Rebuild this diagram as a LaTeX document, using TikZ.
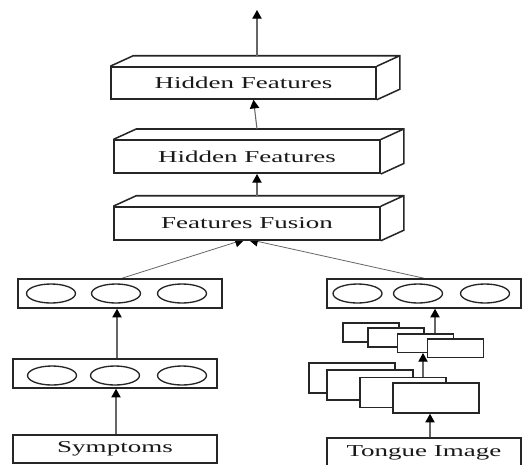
\documentclass[tikz,border=0pt]{standalone}
\usepackage{fontspec}
\setmainfont{Liberation Serif}
\newfontfamily\widefont[FakeStretch=1.62]{Liberation Serif}
\usetikzlibrary{arrows.meta,calc,backgrounds}
\begin{document}
\begin{tikzpicture}[x=0.75pt,y=-0.75pt,
  edge/.style={line width=1.15pt,draw=black!85},
  txt/.style={font={\widefont\fontsize{12.5}{14}\selectfont},text=black!90},
  fbox/.style={edge,fill=white,inner sep=0pt,rectangle,txt},
  cbox/.style={edge,fill=white,inner sep=0pt,rectangle,minimum width=153pt,minimum height=21.75pt},
  fmap/.style={edge,fill=white,inner sep=0pt,rectangle},
  arr/.style={draw=black!60,line width=0.8pt,-{Triangle[width=7pt,length=6.5pt,color=black]}},
  farr/.style={draw=black!60,line width=0.6pt,-{Triangle[width=7.5pt,length=7.5pt,color=black]}},
  circ/.style={edge,line width=1pt}]
\useasboundingbox (0,0) rectangle (523,464);
\clip (0,0) rectangle (523,464);

% ---------- 3D boxes ----------
\node[fbox,minimum width=198.75pt,minimum height=24pt] (b1) at (243.5,83) {Hidden Features};
\draw[edge] (b1.north west) -- ++(23,-10.5) -| ($(b1.south east)+(23,-10.5)$) -- (b1.south east)
            (b1.north east) -- ++(23,-10.5);
\node[fbox,minimum width=199.5pt,minimum height=24.75pt] (b2) at (247,156.75) {Hidden Features};
\draw[edge] (b2.north west) -- ++(23,-10.5) -| ($(b2.south east)+(23,-10.5)$) -- (b2.south east)
            (b2.north east) -- ++(23,-10.5);
\node[fbox,minimum width=199.5pt,minimum height=24.75pt] (b3) at (247,223.5) {Features Fusion};
\draw[edge] (b3.north west) -- ++(23,-10.5) -| ($(b3.south east)+(23,-10.5)$) -- (b3.south east)
            (b3.north east) -- ++(23,-10.5);

\coordinate (out) at (257,10);
\draw[arr] ($(b1.north)+(13.5,-10.5)$) -- (out);
\draw[arr] ($(b2.north)+(10,-10.5)$) -- ($(b1.south)+(10,0)$);
\draw[arr] ($(b3.north)+(10,-10.5)$) -- ($(b2.south)+(10,0)$);

% ---------- left column ----------
\node[cbox] (l1) at (120,293.5) {};
\foreach \cx in {51,116,182} \draw[circ] (\cx,293.5) ellipse [x radius=24.5, y radius=9.5];
\node[cbox] (l2) at (115,373.5) {};
\foreach \cx in {52,115,182} \draw[circ] (\cx,375.5) ellipse [x radius=24.5, y radius=9.5];
\node[fbox,minimum width=153pt,minimum height=21pt] (sym) at (115,449) {Symptoms};

\draw[arr] ($(sym.north)+(1,0)$) -- ($(l2.south)+(1,0)$);
\draw[arr] ($(l2.north)+(2,0)$) -- ($(l2.north |- l1.south)+(2,0)$);

% ---------- right column ----------
\node[cbox,minimum width=145.5pt] (r1) at (424,293.5) {};
\foreach \cx in {357.5,418,485} \draw[circ] (\cx,293.5) ellipse [x radius=24.5, y radius=9.5];

\node[fmap,minimum width=42pt,minimum height=13.9pt] (s1) at (371,332.5) {};
\node[fmap,minimum width=42pt,minimum height=13.9pt] (s2) at (396,337.5) {};
\node[fmap,minimum width=42pt,minimum height=13.9pt] (s3) at (425.5,343) {};
\node[fmap,minimum width=42pt,minimum height=13.9pt] (s4) at (455.5,348) {};

\node[fmap,minimum width=64.5pt,minimum height=22.5pt] (R1) at (352,378) {};
\node[fmap,minimum width=64.5pt,minimum height=22.5pt] (R2) at (370,385) {};
\node[fmap,minimum width=64.5pt,minimum height=22.5pt] (R3) at (403,392.5) {};
\node[fmap,minimum width=64.5pt,minimum height=22.5pt] (R4) at (436,398) {};

\node[fbox,minimum width=145.5pt,minimum height=22.5pt] (ton) at (424,453) {Tongue Image};

\draw[arr] ($(ton.north)+(6,0)$) -- ($(ton.north |- R4.south)+(6,0)$);
\draw[arr] ($(R3.north)+(20,0)$) -- ($(R3.north |- s3.south)+(20,0)$);
\draw[arr] ($(s3.north)+(9.5,0)$) -- ($(s3.north |- r1.south)+(9.5,0)$);

% ---------- fusion inputs ----------
\begin{scope}[on background layer]
\draw[farr] ($(l1.north)+(2,0)$) -- ($(b3.south)+(-2,-1.5)$);
\draw[farr] (r1.north) -- ($(b3.south)+(1,-1.5)$);
\end{scope}
\end{tikzpicture}
\end{document}
